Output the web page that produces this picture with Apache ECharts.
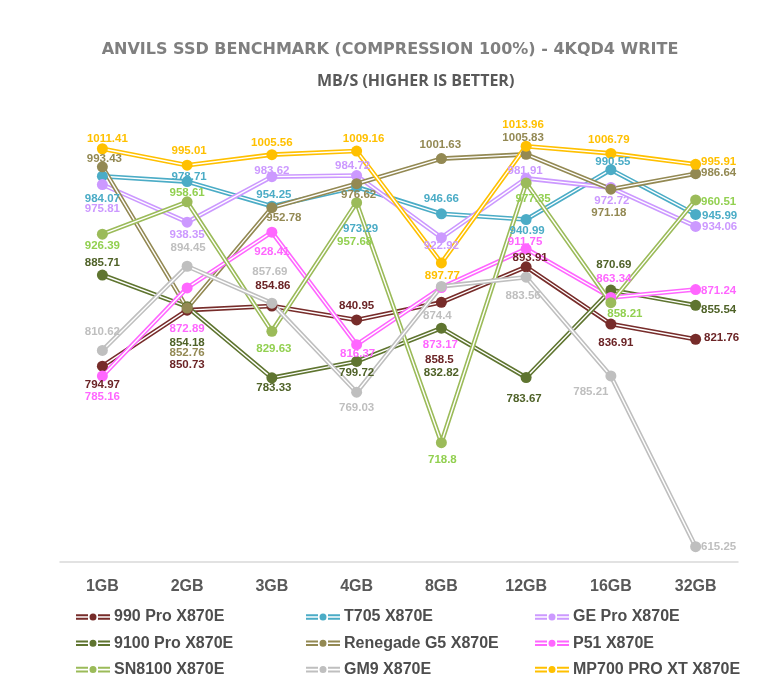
<!DOCTYPE html>
<html>
<head>
<meta charset="utf-8">
<script src="https://cdn.jsdelivr.net/npm/echarts@6/dist/echarts.min.js"></script>
<style>
  html, body { margin: 0; padding: 0; background: #fff; }
  #chart { width: 780px; height: 692px; }
</style>
</head>
<body>
<div id="chart"></div>
<script>
// data (MB/s)
const categories = ['1GB', '2GB', '3GB', '4GB', '8GB', '12GB', '16GB', '32GB']

const pro990 = [794.97, 850.73, 854.86, 840.95, 858.5, 893.91, 836.91, 821.76]
const t705 = [984.07, 978.71, 954.25, 973.29, 946.66, 940.99, 990.55, 945.99]
const gePro = [975.81, 938.35, 983.62, 984.72, 922.92, 981.91, 972.72, 934.06]
const pro9100 = [885.71, 854.18, 783.33, 799.72, 832.82, 783.67, 870.69, 855.54]
const renegadeG5 = [993.43, 852.76, 952.78, 976.62, 1001.63, 1005.83, 971.18, 986.64]
const p51 = [785.16, 872.89, 928.41, 816.37, 873.17, 911.75, 863.34, 871.24]
const sn8100 = [926.39, 958.61, 829.63, 957.68, 718.8, 977.35, 858.21, 960.51]
const gm9 = [810.62, 894.45, 857.69, 769.03, 874.4, 883.56, 785.21, 615.25]
const mp700 = [1011.41, 995.01, 1005.56, 1009.16, 897.77, 1013.96, 1006.79, 995.91]

// drawing order (last one on top), colours, label placement
const drives = [
  { name: '990 Pro X870E', data: pro990, line: '#772c2a', text: '#6b2426',
    offsets: [[0, 19], [0, 55], [1, -20], [0, -14], [-2, 57], [4, -9], [5, 19], [26, -1]] },
  { name: 'T705 X870E', data: t705, line: '#4bacc6', text: '#4bacc6',
    offsets: [[0, 23], [2, -5], [2, -11], [4, 42], [0, -15], [1, 11], [2, -8], [24, 1]] },
  { name: 'GE Pro X870E', data: gePro, line: '#cc99ff', text: '#cc99ff',
    offsets: [[0, 24], [0, 13], [0, -6], [-4, -10], [0, 8], [-1, -8], [1, 13], [24, 0]] },
  { name: '9100 Pro X870E', data: pro9100, line: '#5f7530', text: '#4f6228',
    offsets: [[0, -12], [0, 36], [2, 10], [0, 11], [0, 45], [-2, 21], [3, -25], [23, 5]] },
  { name: 'Renegade G5 X870E', data: renegadeG5, line: '#938953', text: '#938953',
    offsets: [[2, -8], [0, 45], [12, 10], [2, 11], [-1, -14], [-3, -17], [-2, 24], [23, -1]] },
  { name: 'P51 X870E', data: p51, line: '#ff66ff', text: '#ff66ff',
    offsets: [[0, 21], [0, 41], [0, 20], [1, 9], [-1, 57], [-1, -7], [3, -19], [23, 1]] },
  { name: 'SN8100 X870E', data: sn8100, line: '#9bbb59', text: '#92d050',
    offsets: [[0, 12], [0, -9], [2, 17], [-2, 39], [1, 17], [7, 16], [14, 11], [23, 2]] },
  { name: 'GM9 X870E', data: gm9, line: '#bfbfbf', text: '#bfbfbf',
    offsets: [[0, -19], [1, -18], [-2, -31], [0, 16], [-4, 29], [-3, 19], [-20, 16], [23, 0]] },
  { name: 'MP700 PRO XT X870E', data: mp700, line: '#ffc000', text: '#ffc000',
    offsets: [[5, -10], [2, -14], [0, -12], [7, -12], [1, 13], [-3, -21], [-2, -14], [23, -3]] },
]

const legendColumns = [
  ['990 Pro X870E', '9100 Pro X870E', 'SN8100 X870E'],
  ['T705 X870E', 'Renegade G5 X870E', 'GM9 X870E'],
  ['GE Pro X870E', 'P51 X870E', 'MP700 PRO XT X870E'],
]
const legendLeft = [76, 306, 535]

const doubleLineIcon = 'path://M0,2.2h12v2h-12z M0,5.8h12v2h-12z M22,2.2h12v2h-12z M22,5.8h12v2h-12z M13.5,5a3.5,3.5 0 1,0 7,0a3.5,3.5 0 1,0 -7,0z'

const series = []
drives.forEach((d) => {
  series.push({
    name: d.name,
    type: 'line',
    color: d.line,
    data: d.data,
    symbol: 'none',
    silent: true,
    lineStyle: { width: 4.6, color: d.line },
    z: 2,
  })
  series.push({
    name: d.name + ' (inner)',
    type: 'line',
    data: d.data,
    symbol: 'none',
    silent: true,
    lineStyle: { width: 1.4, color: '#ffffff' },
    z: 2,
  })
})
drives.forEach((d) => {
  series.push({
    name: d.name,
    type: 'line',
    color: d.line,
    data: d.data.map((v, i) => ({ value: v, label: { offset: d.offsets[i] } })),
    symbol: 'circle',
    symbolSize: 11,
    showAllSymbol: true,
    itemStyle: { color: d.line, borderWidth: 0 },
    lineStyle: { width: 0, opacity: 0 },
    label: {
      show: true,
      position: 'inside',
      color: d.text,
      fontSize: 11.5,
      fontWeight: 'bold',
      fontFamily: 'Liberation Sans, Arial, sans-serif',
    },
    z: 3,
  })
})

const chart = echarts.init(document.getElementById('chart'), null, { renderer: 'canvas' })
chart.setOption({
  backgroundColor: '#ffffff',
  animation: false,
  title: [
    {
      text: 'ANVILS SSD BENCHMARK (COMPRESSION 100%) - 4KQD4 WRITE',
      left: 'center',
      top: 37,
      textStyle: { fontFamily: 'DejaVu Sans', fontSize: 16, fontWeight: 'bold', color: '#7f7f7f' },
    },
    {
      text: 'MB/S (HIGHER IS BETTER)',
      left: 312,
      top: 68,
      textStyle: { fontFamily: 'Open Sans', fontSize: 16, fontWeight: 'bold', color: '#595959' },
    },
  ],
  legend: legendColumns.map((col, k) => ({
    data: col.map((n) => ({ name: n, icon: doubleLineIcon })),
    orient: 'vertical',
    left: legendLeft[k],
    top: 609,
    padding: 0,
    itemWidth: 34,
    itemHeight: 10,
    itemGap: 10.3,
    selectedMode: false,
    itemStyle: { borderWidth: 0 },
    textStyle: {
      fontFamily: 'Liberation Sans, Arial, sans-serif',
      fontSize: 16,
      fontWeight: 'bold',
      color: '#4d4d4d',
      lineHeight: 16,
      padding: [0, 0, 0, -1],
    },
  })),
  grid: { left: 60, right: 42, top: 110, bottom: 130 },
  xAxis: {
    type: 'category',
    data: categories,
    boundaryGap: true,
    axisLine: { lineStyle: { color: '#d9d9d9', width: 1.5 } },
    axisTick: { show: false },
    axisLabel: {
      margin: 17,
      fontFamily: 'Liberation Sans, Arial, sans-serif',
      fontSize: 16,
      fontWeight: 'bold',
      color: '#595959',
    },
    splitLine: { show: false },
  },
  yAxis: {
    type: 'value',
    min: 600,
    max: 1050,
    show: false,
    splitLine: { show: false },
  },
  series,
})
</script>
</body>
</html>
